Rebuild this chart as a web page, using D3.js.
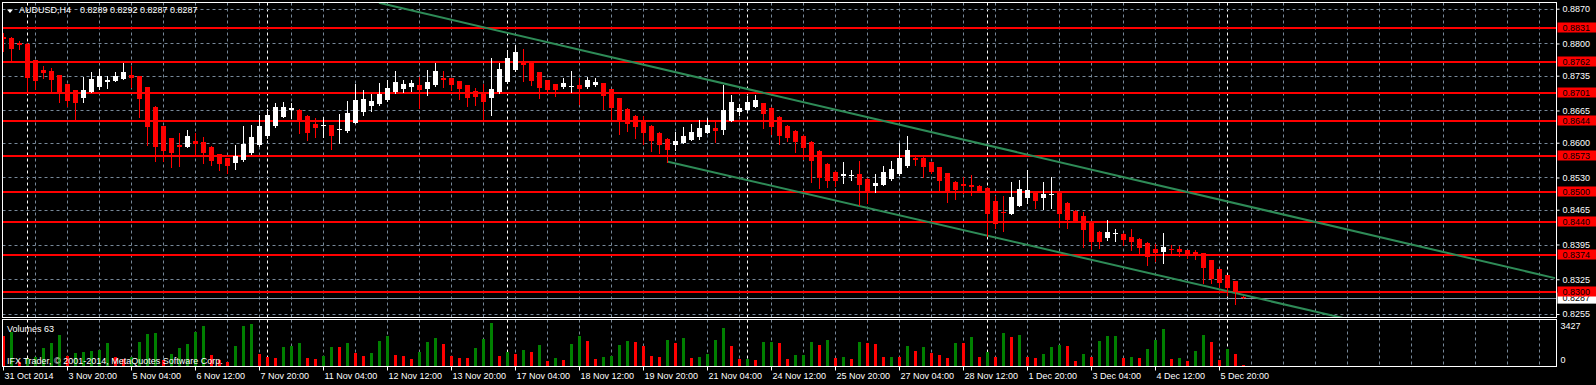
<!DOCTYPE html>
<html>
<head>
<meta charset="utf-8">
<script src="https://cdn.jsdelivr.net/npm/d3@7"></script>
<style>
body { margin: 0; background: #000; }
svg text { font-family: "Liberation Sans", Arial, sans-serif; font-size: 9px; }
</style>
</head>
<body>
<script>

var opens = [
0.8813,0.8811,0.8800,0.8799,0.8766,0.8746,0.8744,0.8736,0.8718,0.8707,
0.8690,0.8703,0.8713,0.8723,0.8725,0.8729,0.8736,0.8734,0.8712,0.8672,
0.8633,0.8609,0.8595,0.8592,0.8603,0.8601,0.8592,0.8577,0.8569,0.8559,
0.8565,0.8579,0.8595,0.8613,0.8633,0.8652,0.8666,0.8666,0.8654,0.8637,
0.8633,0.8635,0.8625,0.8623,0.8640,0.8662,0.8674,0.8678,0.8686,0.8702,
0.8708,0.8712,0.8716,0.8709,0.8716,0.8730,0.8730,0.8724,0.8716,0.8704,
0.8700,0.8690,0.8702,0.8722,0.8746,0.8762,0.8761,0.8742,0.8726,0.8718,
0.8712,0.8713,0.8716,0.8712,0.8716,0.8720,0.8708,0.8690,0.8668,0.8654,
0.8644,0.8634,0.8620,0.8608,0.8596,0.8600,0.8606,0.8612,0.8620,0.8630,
0.8626,0.8644,0.8662,0.8666,0.8672,0.8680,0.8670,0.8652,0.8634,0.8624,
0.8614,0.8602,0.8584,0.8558,0.8542,0.8532,0.8535,0.8538,0.8527,0.8513,
0.8515,0.8527,0.8537,0.8553,0.8570,0.8570,0.8561,0.8551,0.8539,0.8521,
0.8516,0.8514,0.8513,0.8509,0.8483,0.8461,0.8457,0.8473,0.8489,0.8499,
0.8489,0.8495,0.8499,0.8479,0.8463,0.8453,0.8439,0.8421,0.8409,0.8417,
0.8417,0.8411,0.8407,0.8399,0.8385,0.8379,0.8385,0.8385,0.8383,0.8379,
0.8377,0.8363,0.8345,0.8333,0.8321,0.8289];

var highs = [
0.8822,0.8812,0.8805,0.8800,0.8767,0.8754,0.8751,0.8737,0.8719,0.8707,
0.8733,0.8742,0.8749,0.8734,0.8742,0.8761,0.8754,0.8735,0.8713,0.8673,
0.8634,0.8610,0.8620,0.8625,0.8620,0.8612,0.8593,0.8578,0.8570,0.8595,
0.8633,0.8635,0.8656,0.8668,0.8680,0.8682,0.8680,0.8667,0.8655,0.8649,
0.8651,0.8636,0.8658,0.8684,0.8718,0.8706,0.8698,0.8720,0.8726,0.8744,
0.8726,0.8726,0.8732,0.8746,0.8761,0.8744,0.8731,0.8725,0.8717,0.8710,
0.8718,0.8770,0.8760,0.8787,0.8797,0.8789,0.8762,0.8743,0.8727,0.8719,
0.8730,0.8744,0.8730,0.8732,0.8730,0.8721,0.8709,0.8691,0.8669,0.8655,
0.8654,0.8635,0.8621,0.8609,0.8622,0.8632,0.8638,0.8646,0.8650,0.8642,
0.8716,0.8696,0.8678,0.8694,0.8696,0.8681,0.8671,0.8653,0.8635,0.8625,
0.8615,0.8603,0.8585,0.8559,0.8543,0.8562,0.8545,0.8564,0.8528,0.8537,
0.8553,0.8564,0.8600,0.8614,0.8575,0.8571,0.8562,0.8552,0.8540,0.8523,
0.8531,0.8536,0.8514,0.8510,0.8493,0.8493,0.8520,0.8525,0.8545,0.8500,
0.8520,0.8530,0.8500,0.8480,0.8464,0.8461,0.8440,0.8422,0.8445,0.8427,
0.8418,0.8427,0.8408,0.8400,0.8397,0.8419,0.8393,0.8391,0.8384,0.8383,
0.8378,0.8364,0.8346,0.8334,0.8322,0.8292];

var lows = [
0.8785,0.8765,0.8789,0.8703,0.8709,0.8731,0.8703,0.8682,0.8674,0.8645,
0.8682,0.8702,0.8709,0.8711,0.8724,0.8728,0.8713,0.8652,0.8595,0.8563,
0.8563,0.8551,0.8553,0.8591,0.8575,0.8559,0.8555,0.8546,0.8539,0.8547,
0.8564,0.8577,0.8594,0.8610,0.8631,0.8651,0.8649,0.8620,0.8605,0.8612,
0.8612,0.8588,0.8600,0.8622,0.8639,0.8655,0.8664,0.8677,0.8685,0.8701,
0.8702,0.8704,0.8670,0.8696,0.8715,0.8712,0.8706,0.8688,0.8674,0.8676,
0.8645,0.8656,0.8701,0.8721,0.8745,0.8724,0.8717,0.8690,0.8704,0.8695,
0.8711,0.8702,0.8678,0.8711,0.8714,0.8668,0.8648,0.8618,0.8624,0.8610,
0.8598,0.8584,0.8580,0.8562,0.8586,0.8599,0.8605,0.8608,0.8619,0.8602,
0.8618,0.8643,0.8656,0.8665,0.8671,0.8630,0.8618,0.8598,0.8604,0.8581,
0.8567,0.8520,0.8509,0.8511,0.8513,0.8519,0.8525,0.8475,0.8479,0.8501,
0.8514,0.8525,0.8536,0.8552,0.8555,0.8531,0.8539,0.8501,0.8481,0.8487,
0.8499,0.8495,0.8500,0.8413,0.8429,0.8423,0.8456,0.8472,0.8479,0.8469,
0.8467,0.8469,0.8431,0.8429,0.8440,0.8389,0.8385,0.8387,0.8405,0.8403,
0.8393,0.8383,0.8375,0.8353,0.8361,0.8357,0.8375,0.8371,0.8367,0.8365,
0.8317,0.8317,0.8309,0.8293,0.8275,0.8287];

var closes = [
0.8808,0.8789,0.8797,0.8731,0.8725,0.8741,0.8727,0.8701,0.8684,0.8680,
0.8707,0.8729,0.8734,0.8726,0.8734,0.8742,0.8731,0.8688,0.8631,0.8592,
0.8584,0.8580,0.8592,0.8613,0.8598,0.8580,0.8563,0.8557,0.8553,0.8574,
0.8597,0.8611,0.8633,0.8656,0.8672,0.8672,0.8670,0.8645,0.8620,0.8630,
0.8635,0.8613,0.8627,0.8660,0.8686,0.8688,0.8684,0.8698,0.8710,0.8722,
0.8718,0.8720,0.8706,0.8722,0.8744,0.8727,0.8716,0.8708,0.8690,0.8692,
0.8682,0.8708,0.8748,0.8770,0.8783,0.8756,0.8724,0.8710,0.8707,0.8707,
0.8720,0.8714,0.8708,0.8726,0.8722,0.8694,0.8670,0.8644,0.8638,0.8632,
0.8620,0.8604,0.8596,0.8586,0.8604,0.8614,0.8622,0.8630,0.8636,0.8624,
0.8666,0.8682,0.8670,0.8682,0.8686,0.8658,0.8632,0.8614,0.8610,0.8602,
0.8590,0.8564,0.8528,0.8523,0.8523,0.8538,0.8536,0.8515,0.8501,0.8519,
0.8541,0.8547,0.8569,0.8586,0.8565,0.8551,0.8541,0.8523,0.8503,0.8505,
0.8512,0.8510,0.8501,0.8457,0.8437,0.8459,0.8491,0.8507,0.8505,0.8483,
0.8497,0.8497,0.8457,0.8445,0.8441,0.8425,0.8401,0.8401,0.8421,0.8418,
0.8405,0.8401,0.8387,0.8369,0.8377,0.8389,0.8383,0.8379,0.8375,0.8375,
0.8347,0.8325,0.8317,0.8307,0.8299,0.8287];

var volumes = [
2340,2678,338,598,728,1378,1820,2418,780,1040,
1066,1170,1248,1820,728,520,676,1846,2522,2548,
468,936,1378,1742,2652,3146,858,468,338,1586,
3146,3302,962,702,650,1482,1586,1820,650,546,
780,1482,1456,1820,1040,806,1040,1976,2366,832,
780,546,1092,1872,2184,1742,780,624,598,1404,
2106,3354,780,1092,936,1248,1092,1638,390,624,
468,1716,2340,1950,546,702,780,1638,1950,1872,
1560,780,702,2028,1794,2184,624,702,936,2028,
2964,1560,546,572,468,1872,1898,1794,546,832,
858,1872,1638,2028,624,702,546,1872,1794,1716,
702,728,676,1560,1170,1482,1014,858,624,1794,
1768,2262,702,1092,702,2574,2262,2418,702,624,
936,1482,1638,1560,390,936,702,1950,2340,2366,
624,702,624,1326,2028,2886,546,624,390,1170,
2418,1872,468,1300,900,63];

var timeLabels = ['31 Oct 2014', '3 Nov 20:00', '5 Nov 04:00', '6 Nov 12:00', '7 Nov 20:00',
    '11 Nov 04:00', '12 Nov 12:00', '13 Nov 20:00', '17 Nov 04:00', '18 Nov 12:00',
    '19 Nov 20:00', '21 Nov 04:00', '24 Nov 12:00', '25 Nov 20:00', '27 Nov 04:00',
    '28 Nov 12:00', '1 Dec 20:00', '3 Dec 04:00', '4 Dec 12:00', '5 Dec 20:00'];
var labelBars = d3.range(0, 153, 8);
var weekStarts = [3, 33, 63, 93, 123, 153];

var priceTicks = [0.8870, 0.8800, 0.8735, 0.8665, 0.8600, 0.8530, 0.8465, 0.8395, 0.8325, 0.8255];
var levels = [0.8831, 0.8762, 0.8701, 0.8644, 0.8573, 0.8500, 0.8440, 0.8374, 0.8300];
var lastPrice = 0.8287;
var volTicks = [3427, 0];

var trendUpper = [[47, 0.8882], [153, 0.8482]];
var trendLower = [[83, 0.8562], [153, 0.8301]];

var width = 1596,
    height = 385,
    left = 2.5, right = 1556.5,
    mainTop = 2.5, mainBottom = 317.5,
    volTop = 319.5, volBottom = 366.5,
    lastBar = 194;

var x = d3.scaleLinear().domain([0, lastBar]).range([3, 3 + 8 * lastBar]);
var y = d3.scaleLinear().domain([0.8255, 0.8870]).range([314, 8.7]);
var yv = d3.scaleLinear().domain([0, 3427]).range([366, 322]);

var grid = '#778899', bull = '#ffffff', bear = '#ff0000';

var svg = d3.select('body').append('svg')
    .attr('width', width)
    .attr('height', height);

svg.append('rect').attr('width', width).attr('height', height).attr('fill', '#000');

var defs = svg.append('defs');
defs.append('clipPath').attr('id', 'clip-main').append('rect')
    .attr('x', 3).attr('y', 3).attr('width', right - 3).attr('height', mainBottom - 3);
defs.append('clipPath').attr('id', 'clip-vol').append('rect')
    .attr('x', 3).attr('y', volTop + 0.5).attr('width', right - 3).attr('height', volBottom - volTop - 1);

var main = svg.append('g').attr('clip-path', 'url(#clip-main)');
var vol = svg.append('g').attr('clip-path', 'url(#clip-vol)');

// grid
var gridBars = d3.range(4, lastBar + 1, 4);
[[main, mainTop, mainBottom], [vol, volTop, volBottom]].forEach(function (p) {
    p[0].append('g').selectAll('line')
        .data(gridBars)
        .enter()
        .append('line')
        .attr('x1', (d) => x(d) + 0.5)
        .attr('x2', (d) => x(d) + 0.5)
        .attr('y1', p[1])
        .attr('y2', p[2])
        .attr('stroke', grid)
        .attr('stroke-dasharray', '3,3');
    p[0].append('g').selectAll('line')
        .data(weekStarts)
        .enter()
        .append('line')
        .attr('x1', (d) => x(d) + 0.5)
        .attr('x2', (d) => x(d) + 0.5)
        .attr('y1', p[1])
        .attr('y2', p[2])
        .attr('stroke', '#fff')
        .attr('stroke-dasharray', '3,3');
});

main.append('g').selectAll('line')
    .data(priceTicks)
    .enter()
    .append('line')
    .attr('x1', left)
    .attr('x2', right)
    .attr('y1', (d) => Math.round(y(d)) + 0.5)
    .attr('y2', (d) => Math.round(y(d)) + 0.5)
    .attr('stroke', grid)
    .attr('stroke-dasharray', '3,3');

// horizontal levels
main.append('g').selectAll('line')
    .data(levels)
    .enter()
    .append('line')
    .attr('x1', left)
    .attr('x2', right)
    .attr('y1', (d) => Math.round(y(d)))
    .attr('y2', (d) => Math.round(y(d)))
    .attr('stroke', '#ff0000')
    .attr('stroke-width', 2);

main.append('line')
    .attr('x1', left).attr('x2', right)
    .attr('y1', Math.round(y(lastPrice)) + 0.5)
    .attr('y2', Math.round(y(lastPrice)) + 0.5)
    .attr('stroke', '#8a96a8');

// trend channel
var trendLine = function (pts) {
    var slope = (pts[1][1] - pts[0][1]) / (pts[1][0] - pts[0][0]);
    return [pts[0], [lastBar, pts[0][1] + slope * (lastBar - pts[0][0])]];
};
main.append('g').selectAll('line')
    .data([trendUpper, trendLower].map(trendLine))
    .enter()
    .append('line')
    .attr('x1', (d) => x(d[0][0]))
    .attr('y1', (d) => y(d[0][1]))
    .attr('x2', (d) => x(d[1][0]))
    .attr('y2', (d) => y(d[1][1]))
    .attr('stroke', '#2e8b57')
    .attr('stroke-width', 2);

// candles
var bars = d3.range(opens.length);
var candles = main.append('g').selectAll('g')
    .data(bars)
    .enter()
    .append('g')
    .attr('fill', (i) => closes[i] > opens[i] ? bull : bear)
    .attr('stroke', (i) => closes[i] > opens[i] ? bull : bear);

candles.append('line')
    .attr('x1', (i) => x(i) + 0.5)
    .attr('x2', (i) => x(i) + 0.5)
    .attr('y1', (i) => Math.round(y(highs[i])))
    .attr('y2', (i) => Math.round(y(lows[i])) + 1);

candles.append('rect')
    .attr('stroke', 'none')
    .attr('x', (i) => x(i) - 2)
    .attr('width', 5)
    .attr('y', (i) => Math.round(y(Math.max(opens[i], closes[i]))))
    .attr('height', (i) => Math.max(1, Math.round(y(Math.min(opens[i], closes[i]))) - Math.round(y(Math.max(opens[i], closes[i])))));

// volumes
vol.append('g').selectAll('rect')
    .data(bars)
    .enter()
    .append('rect')
    .attr('x', (i) => x(i) - 1)
    .attr('width', 3)
    .attr('y', (i) => Math.round(yv(volumes[i])))
    .attr('height', (i) => yv(0) - Math.round(yv(volumes[i])))
    .attr('fill', (i) => i > 0 && volumes[i] > volumes[i - 1] ? '#008000' : '#ff0000');

// frames
svg.append('rect')
    .attr('x', left).attr('y', mainTop)
    .attr('width', right - left).attr('height', mainBottom - mainTop)
    .attr('fill', 'none').attr('stroke', '#fff');
svg.append('rect')
    .attr('x', left).attr('y', volTop)
    .attr('width', right - left).attr('height', volBottom - volTop)
    .attr('fill', 'none').attr('stroke', '#fff');

// axes
var axisRight = svg.append('g')
    .attr('transform', 'translate(' + right + ', 0)')
    .call(d3.axisRight(y).tickValues(priceTicks).tickFormat(d3.format('.4f')).tickSize(3));
axisRight.select('.domain').remove();
axisRight.selectAll('line').attr('stroke', '#fff');
axisRight.selectAll('text').attr('fill', '#fff').attr('font-family', null).attr('font-size', null);

var axisBottom = svg.append('g')
    .attr('transform', 'translate(0, ' + volBottom + ')')
    .call(d3.axisBottom(x).tickValues(labelBars).tickFormat((d, i) => timeLabels[i]).tickSize(4));
axisBottom.select('.domain').remove();
axisBottom.selectAll('line').attr('stroke', '#fff');
axisBottom.selectAll('text')
    .attr('fill', '#fff')
    .attr('font-family', null).attr('font-size', null)
    .style('text-anchor', 'start')
    .attr('x', 1)
    .attr('y', 6.5);

// current price label, then level labels on top
var tags = svg.append('g');
tags.append('rect')
    .attr('x', right + 1).attr('y', y(lastPrice) - 5.5)
    .attr('width', 39).attr('height', 11).attr('fill', '#fff');
tags.append('text')
    .attr('x', right + 6).attr('y', y(lastPrice) + 3.2)
    .attr('fill', '#000')
    .text(d3.format('.4f')(lastPrice));

var levelTags = tags.selectAll('.lvl')
    .data(levels)
    .enter()
    .append('g');
levelTags.append('rect')
    .attr('x', right + 1)
    .attr('y', (d) => Math.round(y(d)) - 5.5)
    .attr('width', 39)
    .attr('height', 10)
    .attr('fill', '#ff0000');
levelTags.append('text')
    .attr('x', right + 6)
    .attr('y', (d) => Math.round(y(d)) + 3.2)
    .attr('fill', '#000')
    .text((d) => d3.format('.4f')(d));

svg.append('g').selectAll('text')
    .data(volTicks)
    .enter()
    .append('text')
    .attr('x', right + 4)
    .attr('y', (d) => d > 0 ? yv(d) + 7 : yv(d) - 3)
    .attr('fill', '#fff')
    .text((d) => d);

// titles
svg.append('path')
    .attr('d', 'M7,9.5 L13,9.5 L10,13 Z')
    .attr('fill', '#fff');
svg.append('text').attr('x', 19).attr('y', 13.3).attr('fill', '#fff').text('AUDUSD,H4');
svg.append('text').attr('x', 80).attr('y', 13.3).attr('fill', '#fff')
    .text([opens, highs, lows, closes].map((a) => d3.format('.4f')(a[a.length - 1])).join(' '));
svg.append('text').attr('x', 7).attr('y', 331.5).attr('fill', '#fff')
    .text('Volumes ' + volumes[volumes.length - 1]);
svg.append('text').attr('x', 7).attr('y', 364).attr('fill', '#fff')
    .text('IFX Trader, © 2001-2014, MetaQuotes Software Corp.');

</script>
</body>
</html>
